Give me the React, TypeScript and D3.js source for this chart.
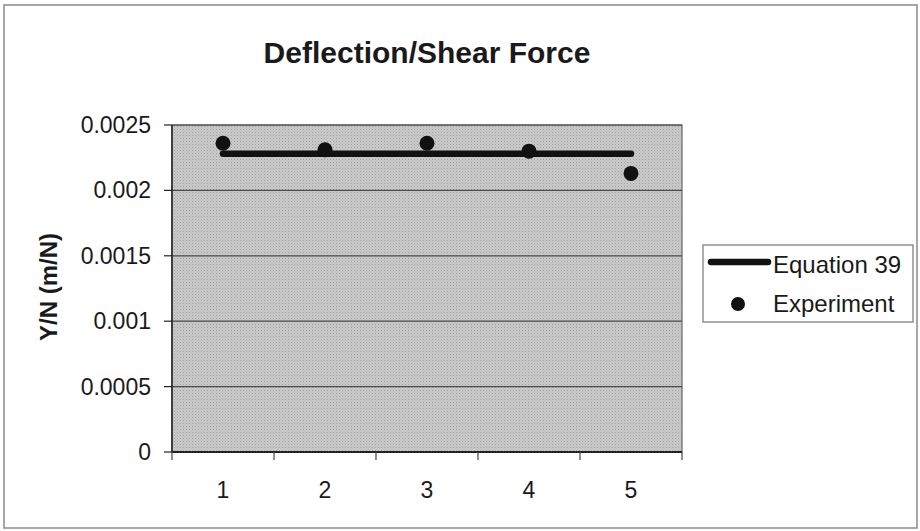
import * as d3 from "d3";

const categories = ["1", "2", "3", "4", "5"];
const equation39 = [0.00228, 0.00228, 0.00228, 0.00228, 0.00228];
const experiment = [0.00236, 0.00231, 0.00236, 0.0023, 0.00213];
const yTicks = [0, 0.0005, 0.001, 0.0015, 0.002, 0.0025];
const yTickLabels = ["0", "0.0005", "0.001", "0.0015", "0.002", "0.0025"];

const W = 920;
const H = 531;
const plot = { left: 172, right: 682, top: 125, bottom: 452 };
const font = "'Liberation Sans', Arial, sans-serif";

const App = () => {
  const x = d3
    .scaleBand<string>()
    .domain(categories)
    .range([plot.left, plot.right])
    .padding(0);
  const y = d3.scaleLinear().domain([0, 0.0025]).range([plot.bottom, plot.top]);
  const cx = (c: string) => (x(c) as number) + x.bandwidth() / 2;

  const line = d3
    .line<number>()
    .x((_, i) => cx(categories[i]))
    .y((d) => y(d));

  // band edges for x ticks
  const xEdges = categories.map((c) => x(c) as number).concat(plot.right);

  return (
    <svg
      width={W}
      height={H}
      style={{ position: "absolute", left: 0, top: 0, background: "#fff" }}
      fontFamily={font}
    >
      <defs>
        <pattern id="dots" width="3" height="3" patternUnits="userSpaceOnUse">
          <rect width="3" height="3" fill="#cacaca" />
          <rect width="1" height="1" fill="#a0a0a0" />
          <rect x="1.5" y="1.5" width="1" height="1" fill="#b2b2b2" />
        </pattern>
      </defs>

      <rect x={4} y={5} width={913} height={523} fill="#fff" stroke="#8a8a8a" strokeWidth={1.5} />

      <text x={(plot.left + plot.right) / 2} y={63} textAnchor="middle" fontSize={30} fontWeight="bold" fill="#1a1a1a">
        Deflection/Shear Force
      </text>

      {/* plot area */}
      <rect
        x={plot.left}
        y={plot.top}
        width={plot.right - plot.left}
        height={plot.bottom - plot.top}
        fill="url(#dots)"
        stroke="#666"
        strokeWidth={1.2}
      />

      {/* gridlines */}
      {yTicks.slice(1).map((t) => (
        <line key={t} x1={plot.left} x2={plot.right} y1={y(t)} y2={y(t)} stroke="#4a4a4a" strokeWidth={1.2} />
      ))}

      {/* y axis */}
      <line x1={plot.left} x2={plot.left} y1={plot.top} y2={plot.bottom} stroke="#222" strokeWidth={1.5} />
      {yTicks.map((t, i) => (
        <g key={t}>
          <line x1={plot.left - 8} x2={plot.left} y1={y(t)} y2={y(t)} stroke="#222" strokeWidth={1.2} />
          <text x={151} y={y(t)} dy="0.35em" textAnchor="end" fontSize={23} fill="#1a1a1a">
            {yTickLabels[i]}
          </text>
        </g>
      ))}

      {/* x axis */}
      <line x1={plot.left} x2={plot.right} y1={plot.bottom} y2={plot.bottom} stroke="#222" strokeWidth={1.8} />
      {xEdges.map((e, i) => (
        <line key={i} x1={e} x2={e} y1={plot.bottom} y2={plot.bottom + 8} stroke="#444" strokeWidth={1.2} />
      ))}
      {categories.map((c) => (
        <text key={c} x={cx(c)} y={498} textAnchor="middle" fontSize={23} fill="#1a1a1a">
          {c}
        </text>
      ))}

      <text
        transform={`translate(49,287) rotate(-90)`}
        textAnchor="middle"
        dy="0.35em"
        fontSize={24}
        fontWeight="bold"
        fill="#1a1a1a"
      >
        Y/N (m/N)
      </text>

      {/* series */}
      <path d={line(equation39) as string} fill="none" stroke="#111" strokeWidth={6.5} strokeLinecap="round" />
      {experiment.map((v, i) => (
        <circle key={i} cx={cx(categories[i])} cy={y(v)} r={7.5} fill="#111" />
      ))}

      {/* legend */}
      <rect x={703} y={245} width={210} height={77} fill="#fff" stroke="#777" strokeWidth={1.2} />
      <line x1={711} x2={768} y1={262} y2={262} stroke="#111" strokeWidth={6.5} strokeLinecap="round" />
      <text x={773} y={273} fontSize={24} fill="#1a1a1a">
        Equation 39
      </text>
      <circle cx={738} cy={304} r={7} fill="#111" />
      <text x={773} y={312} fontSize={24} fill="#1a1a1a">
        Experiment
      </text>
    </svg>
  );
};

export default App;
